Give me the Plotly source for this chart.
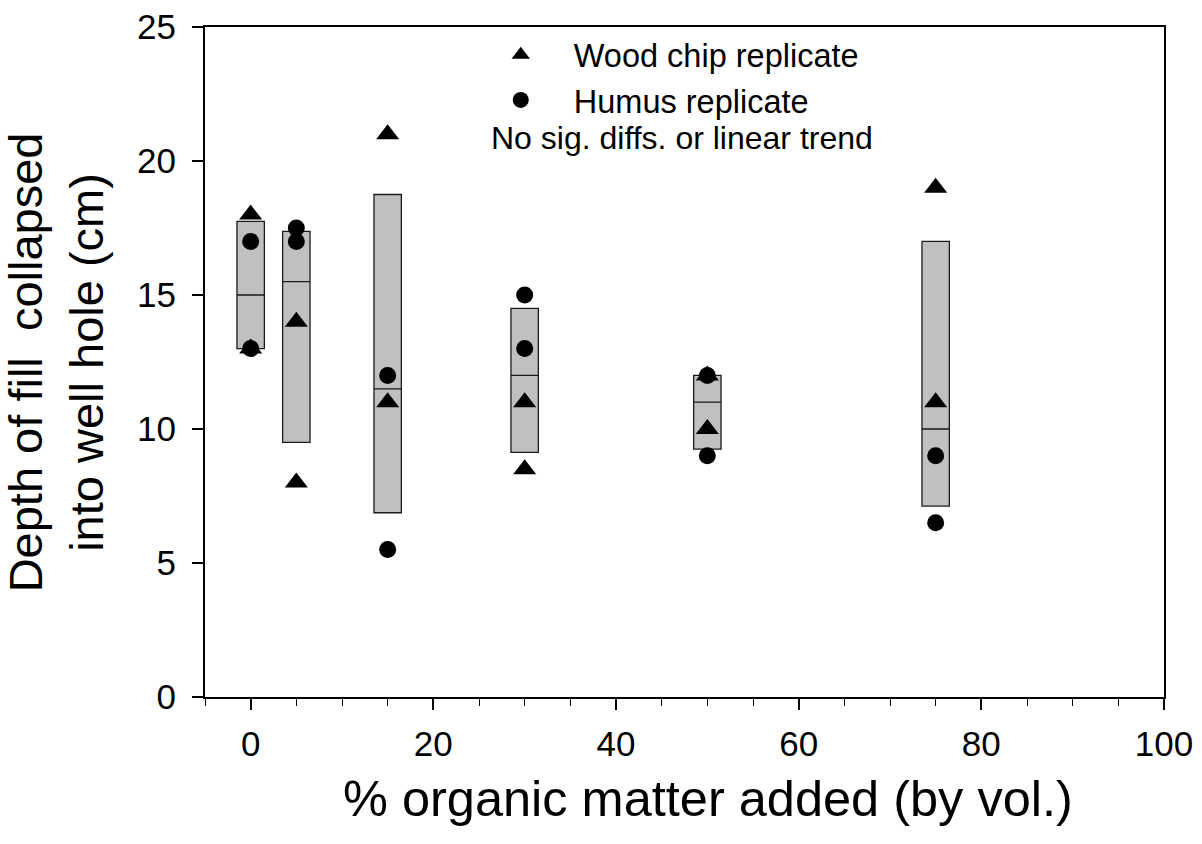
import numpy as np
import plotly.graph_objects as go

# % organic matter added (by volume)
om_levels = [0, 5, 15, 30, 50, 75]
# depth of fill collapsed into well hole (cm), two replicates per level
wood_chip = [[18, 13], [14, 8], [21, 11], [11, 8.5], [12, 10], [19, 11]]
humus = [[17, 13], [17.5, 17], [12, 5.5], [15, 13], [12, 9], [9, 6.5]]

x_ticks = [0, 20, 40, 60, 80, 100]
y_ticks = [0, 5, 10, 15, 20, 25]

FONT = "Liberation Sans, Arial, sans-serif"

# box statistics from all four replicates at each level
pooled = [np.array(w + h, dtype=float) for w, h in zip(wood_chip, humus)]
q1 = [float(np.percentile(v, 25, method="weibull")) for v in pooled]
med = [float(np.percentile(v, 50, method="weibull")) for v in pooled]
q3 = [float(np.percentile(v, 75, method="weibull")) for v in pooled]

def flatten(levels, reps):
    xs, ys = [], []
    for lv, r in zip(levels, reps):
        for val in r:
            xs.append(lv)
            ys.append(val)
    return xs, ys

wx, wy = flatten(om_levels, wood_chip)
hx, hy = flatten(om_levels, humus)

fig = go.Figure()

fig.add_trace(go.Box(
    x=om_levels, q1=q1, median=med, q3=q3,
    lowerfence=q1, upperfence=q3,
    width=3, whiskerwidth=0,
    fillcolor="#c0c0c0",
    line=dict(color="#1a1a1a", width=1.3),
    showlegend=False, hoverinfo="skip",
))

fig.add_trace(go.Scatter(
    x=wx, y=wy, mode="markers", name="Wood chip replicate",
    marker=dict(symbol="triangle-up", size=20, color="black"),
))
fig.add_trace(go.Scatter(
    x=hx, y=hy, mode="markers", name="Humus replicate",
    marker=dict(symbol="circle", size=17, color="black"),
))

fig.add_annotation(
    text="No sig. diffs. or linear trend",
    xref="paper", yref="paper", x=0.4975, y=0.834,
    xanchor="center", yanchor="middle", showarrow=False,
    font=dict(family=FONT, size=32, color="black"),
)

# axis titles
fig.add_annotation(
    text="% organic matter added (by vol.)",
    xref="paper", yref="paper", x=0.5245, y=-0.152,
    xanchor="center", yanchor="middle", showarrow=False,
    font=dict(family=FONT, size=50.5, color="black"),
)
fig.add_annotation(
    text="Depth of fill  collapsed<br>into well hole (cm)",
    xref="paper", yref="paper", x=-0.155, y=0.5,
    xanchor="center", yanchor="middle", showarrow=False, textangle=-90,
    font=dict(family=FONT, size=47, color="black"),
)

fig.update_layout(
    width=1202, height=844,
    margin=dict(l=205, r=38, t=27, b=147),
    paper_bgcolor="white", plot_bgcolor="white",
    font=dict(family=FONT, color="black"),
    legend=dict(
        x=0.274, y=1.0, xanchor="left", yanchor="top",
        bgcolor="rgba(0,0,0,0)", itemwidth=96,
        font=dict(family=FONT, size=32.5, color="black"),
    ),
    boxmode="overlay",
)

fig.update_xaxes(
    range=[-5, 100], tickvals=x_ticks, ticktext=[str(t) for t in x_ticks],
    ticks="outside", ticklen=11, tickwidth=1.5, tickcolor="black",
    minor=dict(dtick=5, ticks="outside", ticklen=7, tickwidth=1.2, tickcolor="black"),
    showline=True, linewidth=2, linecolor="black", mirror=True,
    showgrid=False, zeroline=False, automargin=False,
    ticklabelstandoff=4,
    tickfont=dict(family=FONT, size=35, color="black"),
)
fig.update_yaxes(
    range=[0, 25], tickvals=y_ticks, ticktext=[str(t) for t in y_ticks],
    ticks="outside", ticklen=11, tickwidth=1.5, tickcolor="black",
    showline=True, linewidth=2, linecolor="black", mirror=True,
    showgrid=False, zeroline=False, automargin=False,
    ticklabelstandoff=9,
    tickfont=dict(family=FONT, size=35, color="black"),
)

fig.write_html("out.html")
